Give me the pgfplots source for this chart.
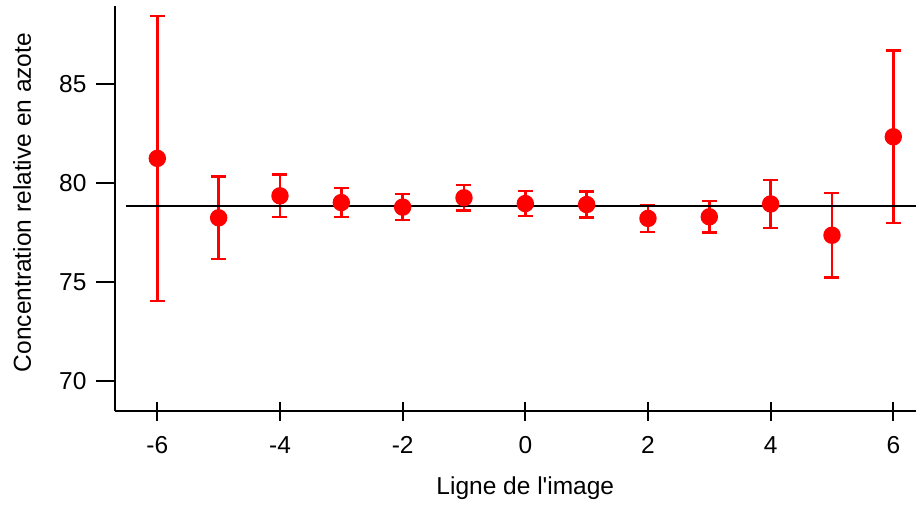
\documentclass[border=0pt]{standalone}
\usepackage{fontspec}
\setmainfont{Liberation Sans}
\usepackage{pgfplots}
\pgfplotsset{compat=1.18}
\begin{document}
\begin{tikzpicture}
\begin{axis}[
  scale only axis,
  width=801pt, height=405pt,
  xmin=-6.69, xmax=6.37,
  ymin=68.5, ymax=88.94,
  axis x line*=bottom, axis y line*=left,
  axis line style={line width=2.2pt, -},
  xtick={-6,-4,-2,0,2,4,6},
  ytick={70,75,80,85},
  tick align=outside,
  major tick length=19pt,
  xtick style={line width=2.2pt, black, yshift=9.5pt},
  ytick style={line width=2.2pt, black},
  font=\fontsize{24.5}{29}\selectfont,
  tick label style={font=\fontsize{24.5}{29}\selectfont},
  label style={font=\fontsize{24.5}{29}\selectfont},
  /pgf/number format/assume math mode=true,
  xticklabel style={yshift=-3pt},
  yticklabel style={xshift=-6pt},
  xlabel={Ligne de l\textquotesingle image},
  ylabel={Concentration relative en azote},
  xlabel style={at={([yshift=-83pt]axis cs:0,68.5)}, anchor=base},
  ylabel style={at={([xshift=-93pt]axis description cs:0,0.5148)}, anchor=center, rotate=0},
  clip=false,
]
\addplot[red, only marks, mark=*, mark size=7.5pt, mark options={fill=red, draw=red},
  line width=2.4pt,
  error bars/.cd, y dir=both, y explicit,
  error bar style={line width=2.4pt, red},
  error mark options={rotate=90, mark size=7.5pt, line width=2.4pt, red}]
  table[x=x, y=y, y error=e] {
x y e
-6 81.25 7.20
-5 78.25 2.09
-4 79.36 1.08
-3 79.02 0.72
-2 78.79 0.65
-1 79.26 0.64
0 78.97 0.63
1 78.92 0.65
2 78.22 0.68
3 78.30 0.79
4 78.95 1.20
5 77.37 2.13
6 82.34 4.35
};
\addplot[black, line width=2.2pt] coordinates {(-6.51,78.84) (6.37,78.84)};
\end{axis}
\pgfresetboundingbox
\useasboundingbox (current axis.south west) ++(-115pt,-93pt) rectangle ([yshift=6pt]current axis.north east);
\end{tikzpicture}
\end{document}
